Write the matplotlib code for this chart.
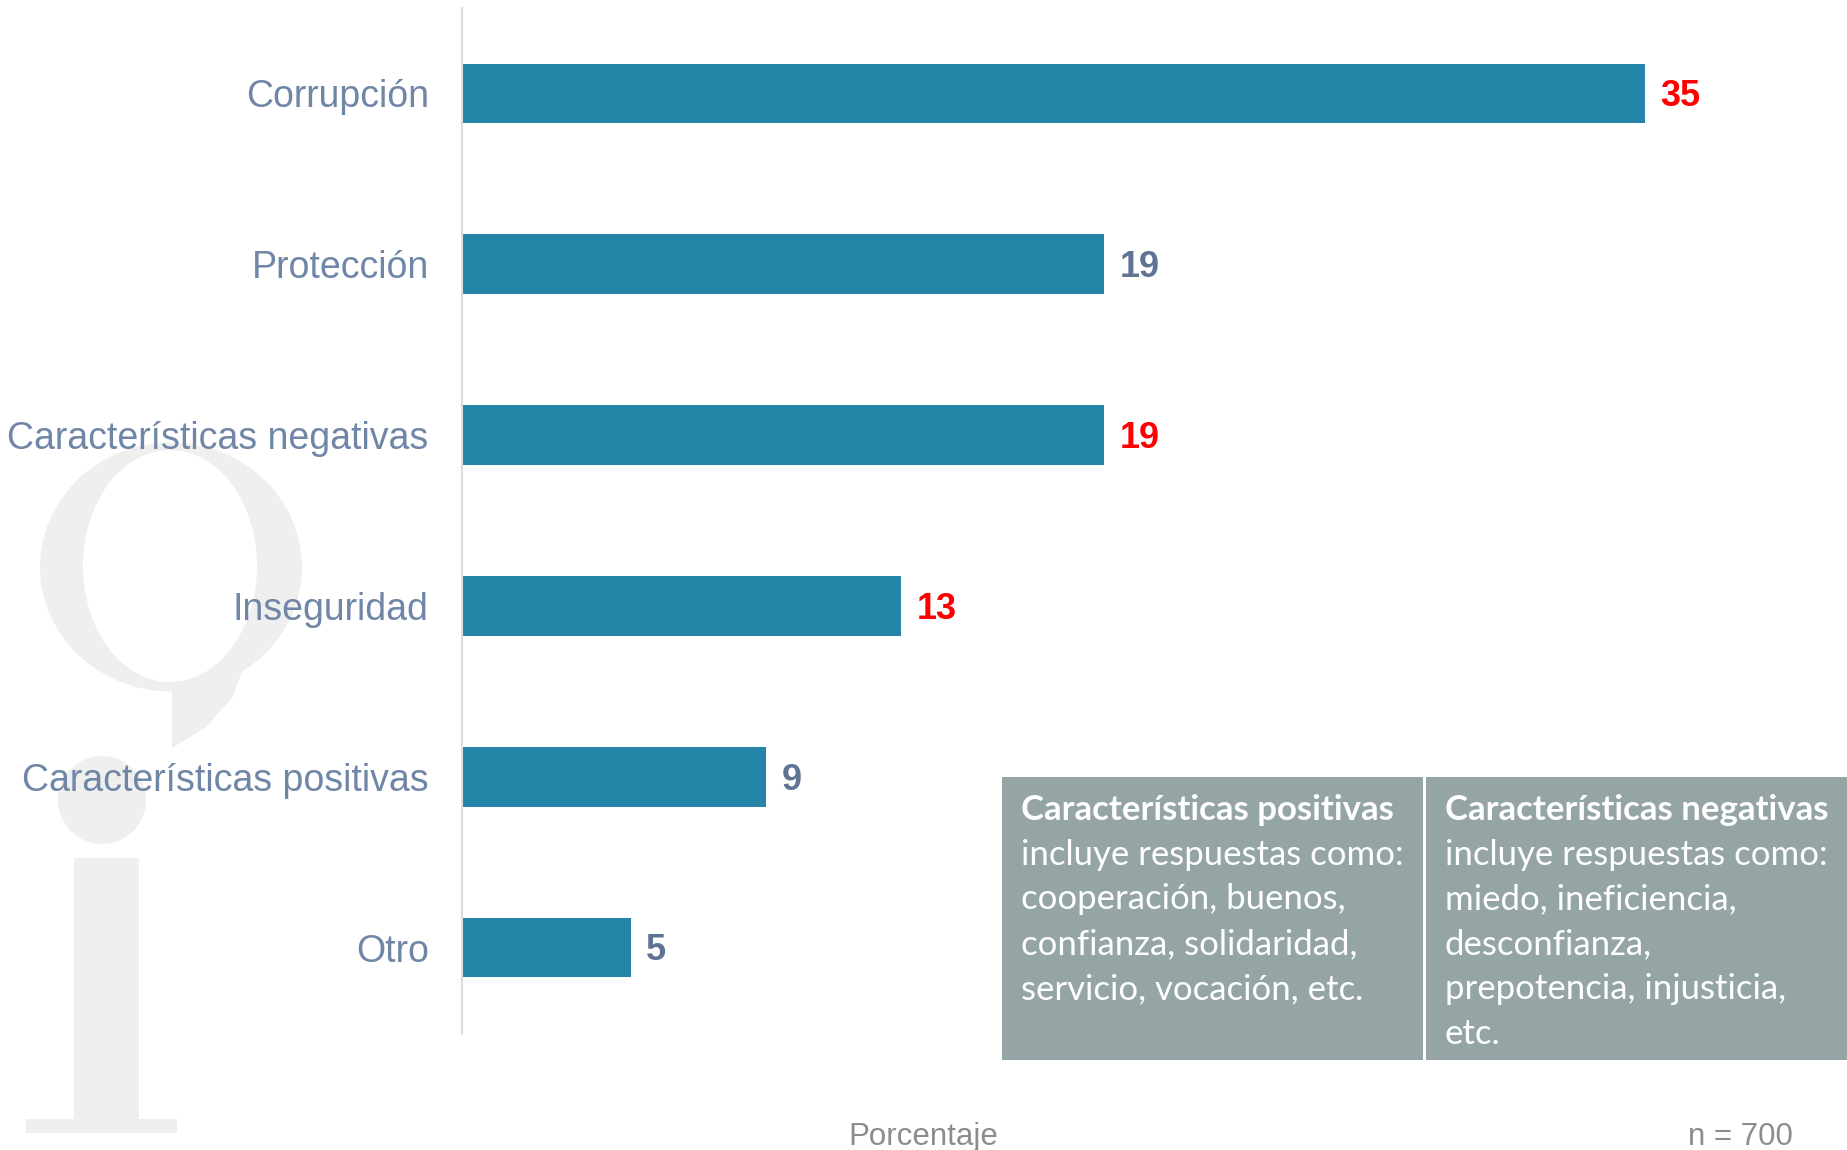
import matplotlib
matplotlib.use("Agg")
import matplotlib.pyplot as plt
from matplotlib.patches import Ellipse, Circle, Rectangle, Polygon

# data
categories = ["Corrupción", "Protección", "Características negativas",
              "Inseguridad", "Características positivas", "Otro"]
values = [35, 19, 19, 13, 9, 5]
highlight = [True, False, True, True, False, False]

box_titles = ["Características positivas", "Características negativas"]
box_bodies = [
    ["incluye respuestas como:", "cooperación, buenos,",
     "confianza, solidaridad,", "servicio, vocación, etc."],
    ["incluye respuestas como:", "miedo, ineficiencia,", "desconfianza,",
     "prepotencia, injusticia,", "etc."],
]

W, H = 1847, 1150
bar_color = "#2585a8"
label_color = "#7086a6"
value_gray = "#5f7393"
box_color = "#95a5a5"
wm_color = "#efefef"

plt.rcParams['font.family'] = ['Liberation Sans', 'DejaVu Sans']
fig = plt.figure(figsize=(W / 100, H / 100), dpi=100)

# background watermark, drawn in pixel coordinates
bg = fig.add_axes([0, 0, 1, 1], zorder=0)
bg.set_xlim(0, W)
bg.set_ylim(H, 0)
bg.axis("off")
bg.add_patch(Ellipse((171, 567), 262, 249, color=wm_color, lw=0))
bg.add_patch(Polygon([(150, 680), (172, 690), (172, 748), (205, 728),
                      (232, 698), (250, 650)], closed=True, color=wm_color, lw=0))
bg.add_patch(Ellipse((170, 566), 174, 232, color="white", lw=0))
bg.add_patch(Circle((102, 800), 44, color=wm_color, lw=0))
bg.add_patch(Rectangle((74, 858), 65, 265, color=wm_color, lw=0))
bg.add_patch(Rectangle((26, 1119), 151, 14, color=wm_color, lw=0))

# main bar chart
ax = fig.add_axes([462 / W, 1 - 1033 / H, (1814 - 462) / W, (1033 - 8) / H], zorder=1)
ax.patch.set_alpha(0)
y = list(range(len(categories)))
ax.barh(y, values, height=0.35, color=bar_color)
ax.set_ylim(len(categories) - 0.5, -0.5)
ax.set_xlim(0, 40)
ax.set_yticks(y)
ax.set_yticklabels(categories, fontsize=27, color=label_color)
ax.tick_params(axis="y", length=0, pad=24)
ax.set_xticks([])
for s in ["top", "right", "bottom"]:
    ax.spines[s].set_visible(False)
ax.spines["left"].set_color("#dcdcdc")
ax.spines["left"].set_linewidth(1.5)

for yi, v, hl in zip(y, values, highlight):
    ax.text(v + 0.45, yi + 0.02, str(v), va="center", ha="left", fontsize=26,
            fontweight="bold", color="red" if hl else value_gray)

# note boxes
bg.add_patch(Rectangle((1002, 777), 421, 283, color=box_color, lw=0, zorder=2))
bg.add_patch(Rectangle((1426, 777), W - 1426, 283, color=box_color, lw=0, zorder=2))
box_font = ['Lato', 'DejaVu Sans']
step = 44.7
for x0, title, body in zip([1021, 1445], box_titles, box_bodies):
    bg.text(x0, 810, title, ha="left", va="center", fontsize=25, fontweight="bold",
            color="white", family=box_font, zorder=3)
    for i, line in enumerate(body):
        bg.text(x0, 810 + step * (i + 1), line, ha="left", va="center", fontsize=25,
                color="white", family=box_font, zorder=3)

# footer
foot_font = ['Liberation Sans Narrow', 'Liberation Sans', 'DejaVu Sans']
bg.text(923, 1137, "Porcentaje", ha="center", va="center", fontsize=22.5,
        color="#8c8c8c", family=foot_font)
bg.text(1793, 1137, "n = 700", ha="right", va="center", fontsize=22.5,
        color="#8c8c8c", family=foot_font)

fig.savefig("out.png", dpi=100)
